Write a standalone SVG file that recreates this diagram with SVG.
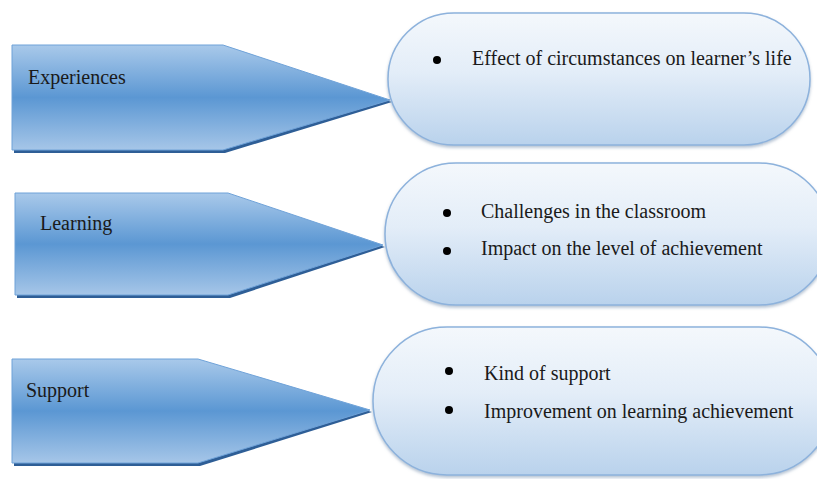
<svg xmlns="http://www.w3.org/2000/svg" width="817" height="479" viewBox="0 0 817 479">
<defs>
<linearGradient id="gArrow" x1="0" y1="0" x2="0" y2="1">
<stop offset="0" stop-color="#a9c9ea"/>
<stop offset="0.5" stop-color="#5b97d3"/>
<stop offset="1" stop-color="#a6c6e8"/>
</linearGradient>
<linearGradient id="gPill" x1="0" y1="0" x2="0" y2="1">
<stop offset="0" stop-color="#f4f8fc"/>
<stop offset="0.45" stop-color="#e3edf8"/>
<stop offset="1" stop-color="#b9d2ec"/>
</linearGradient>
<filter id="sh" x="-10%" y="-10%" width="120%" height="130%">
<feDropShadow dx="0" dy="2" stdDeviation="1.5" flood-color="#6b87a8" flood-opacity="0.5"/>
</filter>
</defs>
<style>
.arrow{fill:url(#gArrow);stroke:#6fa2d8;stroke-width:1}
.ashadow{fill:#2e5e96}
.pill{fill:url(#gPill);stroke:#8db2dc;stroke-width:1.5;filter:url(#sh)}
.t{font-family:"Liberation Serif","Times New Roman",serif;font-size:20px;fill:#1a1a1a}
.b{fill:#000}
</style>
<g id="connectors"></g>
<g id="experiences">
<polygon class="ashadow" points="14,48 223,48 392,102 225,153 14,153"/>
<polygon class="arrow" points="12,45 223,45 390,100 223,150 12,150"/>
<text class="t" x="28" y="84">Experiences</text>
</g>
<g id="learning">
<polygon class="ashadow" points="17,196 228,196 385,247 230,298 17,298"/>
<polygon class="arrow" points="15,193 228,193 383,245 228,295 15,295"/>
<text class="t" x="40" y="230">Learning</text>
</g>
<g id="support">
<polygon class="ashadow" points="14,362 198,362 372,412 200,466 14,466"/>
<polygon class="arrow" points="12,359 198,359 370,410 198,463 12,463"/>
<text class="t" x="26" y="397">Support</text>
</g>
<g id="box1">
<rect class="pill" x="388" y="13" width="422" height="132" rx="66" ry="66"/>
<circle class="b" cx="437" cy="60" r="4"/>
<text class="t" x="472" y="65">Effect of circumstances on learner’s life</text>
</g>
<g id="box2">
<rect class="pill" x="385" y="163" width="445" height="142" rx="71" ry="71"/>
<circle class="b" cx="447" cy="213" r="4"/>
<text class="t" x="481" y="218">Challenges in the classroom</text>
<circle class="b" cx="447" cy="251" r="4"/>
<text class="t" x="481" y="255">Impact on the level of achievement</text>
</g>
<g id="box3">
<rect class="pill" x="373" y="327" width="460" height="148" rx="74" ry="74"/>
<circle class="b" cx="449" cy="371" r="4"/>
<text class="t" x="484" y="380">Kind of support</text>
<circle class="b" cx="449" cy="410" r="4"/>
<text class="t" x="484" y="418">Improvement on learning achievement</text>
</g>
</svg>
